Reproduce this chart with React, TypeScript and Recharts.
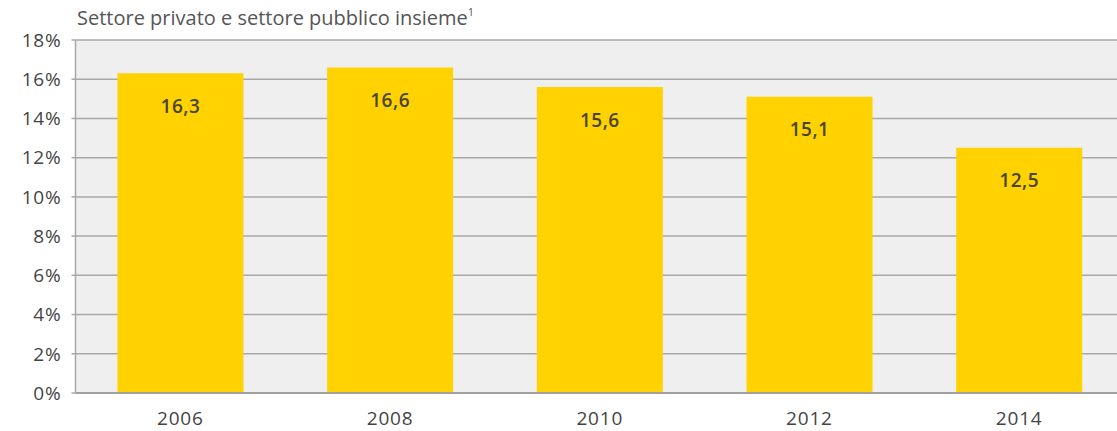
import { BarChart, Bar, XAxis, YAxis, CartesianGrid, LabelList } from 'recharts';

const years = ['2006', '2008', '2010', '2012', '2014'];
const shares = [16.3, 16.6, 15.6, 15.1, 12.5];
const yTicks = [0, 2, 4, 6, 8, 10, 12, 14, 16, 18];
const title = 'Settore privato e settore pubblico insieme';

const FONT = '"Open Sans", sans-serif';

const data = years.map((year, i) => ({ year, value: shares[i] }));

const App = () => {
  return (
    <div style={{ position: 'absolute', left: 0, top: 0, width: 1117, height: 431, overflow: 'hidden', background: '#fff' }}>
      <BarChart
        width={1130}
        height={431}
        data={data}
        margin={{ top: 40, right: 6, bottom: 0, left: 0 }}
        barCategoryGap="20%"
      >
        <CartesianGrid vertical={false} stroke="#a8a8a8" strokeWidth={1.5} fill="#efefef" />
        <XAxis
          dataKey="year"
          height={38}
          tickLine={false}
          tickSize={0}
          tickMargin={19}
          axisLine={{ stroke: '#a0a0a0', strokeWidth: 2 }}
          tick={{ fill: '#444', fontSize: 19, fontFamily: FONT, letterSpacing: 0.8 }}
        />
        <YAxis
          width={75.5}
          domain={[0, 18]}
          ticks={yTicks}
          interval={0}
          tickSize={4}
          tickMargin={10}
          tickLine={{ stroke: '#a8a8a8', strokeWidth: 1.5 }}
          axisLine={{ stroke: '#a8a8a8', strokeWidth: 1.5 }}
          tickFormatter={(v: number) => `${v}%`}
          tick={{ fill: '#444', fontSize: 19, fontFamily: FONT, letterSpacing: 0.8 }}
        />
        <Bar dataKey="value" fill="#ffd200" isAnimationActive={false}>
          <LabelList
            dataKey="value"
            position="insideTop"
            offset={26}
            formatter={(v: number) => v.toFixed(1).replace('.', ',')}
            style={{ fill: '#4a4530', fontSize: 19, fontWeight: 600, fontFamily: FONT, letterSpacing: 0.5 }}
          />
        </Bar>
      </BarChart>
      <svg width={600} height={36} style={{ position: 'absolute', left: 0, top: 0 }}>
        <text x={77} y={25} fill="#555" fontSize={20} fontFamily={FONT}>
          {title}
          <tspan fontSize={11} dy={-9}>1</tspan>
        </text>
      </svg>
    </div>
  );
};

export default App;
